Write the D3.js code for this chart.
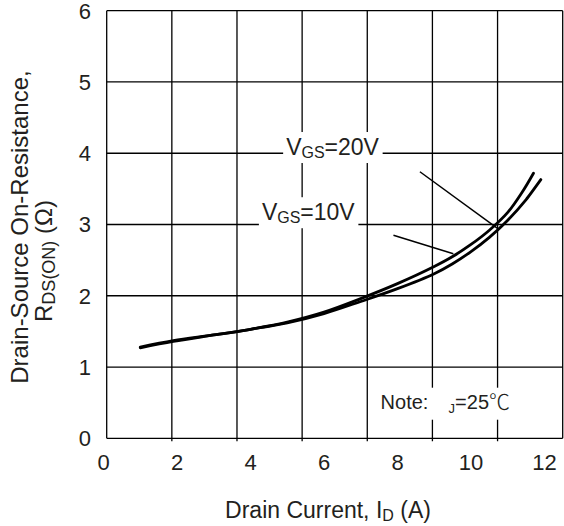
<!DOCTYPE html>
<html>
<head>
<meta charset="utf-8">
<script src="https://cdn.jsdelivr.net/npm/d3@7"></script>
<style>
  body { margin: 0; background: #fff; }
  svg { display: block; }
  text { font-family: "Liberation Sans", Arial, sans-serif; fill: #231f20; }
</style>
</head>
<body>
<div id="chart"></div>
<script>
// drain current (A) and on-resistance (ohm)
const current10 = [1.0, 1.9, 3.0, 4.0, 5.0, 6.0, 7.0, 8.0, 9.0, 9.5, 10.0, 10.5, 11.0, 11.4, 11.7];
const rdson10   = [1.28, 1.37, 1.45, 1.53, 1.63, 1.77, 1.96, 2.17, 2.41, 2.55, 2.72, 2.92, 3.17, 3.46, 3.72];
const current20 = [1.0, 1.9, 3.0, 4.0, 5.0, 6.0, 7.0, 8.0, 9.0, 9.5, 10.0, 10.5, 11.0, 11.5, 11.9];
const rdson20   = [1.27, 1.36, 1.45, 1.53, 1.62, 1.75, 1.92, 2.10, 2.31, 2.45, 2.62, 2.82, 3.06, 3.35, 3.63];
const xTicks = [0, 2, 4, 6, 8, 10, 12];
const yTicks = [0, 1, 2, 3, 4, 5, 6];
const gridCols = 7; // the printed grid has 7 columns, not matched to the tick labels

const width = 564, height = 526;

const svg = d3.select("#chart").append("svg")
  .attr("width", width)
  .attr("height", height);

// data scale (tick labels + curves)
const x = d3.scaleLinear().domain([0, 12]).range([103.5, 544.5]);
const y = d3.scaleLinear().domain([0, 6]).range([438.3, 10.7]);
// grid box
const gx = d3.scaleLinear().domain([0, gridCols]).range([106.7, 562.7]);

const grid = svg.append("g").attr("stroke", "#000").attr("stroke-width", 1.3);
grid.selectAll(".vline")
  .data(d3.range(gridCols + 1))
  .enter().append("line")
  .attr("x1", d => gx(d)).attr("x2", d => gx(d))
  .attr("y1", y(6)).attr("y2", d => (d > 0 && d < gridCols) ? y(0) + 3 : y(0));
grid.selectAll(".hline")
  .data(yTicks)
  .enter().append("line")
  .attr("x1", gx(0)).attr("x2", gx(gridCols))
  .attr("y1", d => y(d)).attr("y2", d => y(d));

// tick labels
svg.append("g").selectAll("text")
  .data(xTicks)
  .enter().append("text")
  .attr("x", d => x(d))
  .attr("y", 470)
  .attr("text-anchor", "middle")
  .attr("font-size", 22)
  .text(d => d);

svg.append("g").selectAll("text")
  .data(yTicks)
  .enter().append("text")
  .attr("x", 91)
  .attr("y", d => y(d))
  .attr("dy", "0.36em")
  .attr("text-anchor", "end")
  .attr("font-size", 22)
  .text(d => d);

// axis titles
const xt = svg.append("text")
  .attr("x", 328).attr("y", 518)
  .attr("text-anchor", "middle")
  .attr("font-size", 23);
xt.append("tspan").text("Drain Current, I");
xt.append("tspan").attr("font-size", 16).attr("dy", 3).text("D");
xt.append("tspan").attr("dy", -3).text(" (A)");

const yt = svg.append("g").attr("transform", "rotate(-90)");
yt.append("text")
  .attr("x", -227).attr("y", 28)
  .attr("text-anchor", "middle")
  .attr("font-size", 24)
  .text("Drain-Source On-Resistance,");
const yt2 = yt.append("text")
  .attr("x", -261).attr("y", 52)
  .attr("text-anchor", "middle")
  .attr("font-size", 24);
yt2.append("tspan").text("R");
yt2.append("tspan").attr("font-size", 18).attr("dy", 3).text("DS(ON)");
yt2.append("tspan").attr("dy", -3).text(" (Ω)");

// label helper: text with white box behind it
function label(g, xv, yv, main, sub, rest, size, subSize) {
  const t = g.append("text")
    .attr("x", x(xv)).attr("y", y(yv))
    .attr("font-size", size);
  t.append("tspan").text(main);
  t.append("tspan").attr("font-size", subSize).attr("dy", 3).text(sub);
  t.append("tspan").attr("dy", -3).text(rest);
  const bb = t.node().getBBox();
  g.insert("rect", "text")
    .attr("x", bb.x - 3).attr("y", bb.y - 2)
    .attr("width", bb.width + 6).attr("height", bb.height + 4)
    .attr("fill", "#fff");
  return t;
}

const labels = svg.append("g");
label(labels.append("g"), 4.97, 3.975, "V", "GS", "=20V", 23, 16);
label(labels.append("g"), 4.31, 3.06, "V", "GS", "=10V", 23, 16);

// note box
const noteG = svg.append("g");
noteG.append("rect")
  .attr("x", x(7.35)).attr("y", y(0.71))
  .attr("width", 143).attr("height", 32)
  .attr("fill", "#fff");
const note = noteG.append("text")
  .attr("x", x(7.54)).attr("y", y(0.41))
  .attr("font-size", 20);
note.append("tspan").text("Note:");
note.append("tspan").attr("x", x(7.54) + 68).attr("font-size", 13).attr("dy", 4).text("J");
note.append("tspan").attr("dy", -4).text("=25");
note.append("tspan")
  .style("font-family", "'Noto Sans CJK SC', sans-serif")
  .attr("font-weight", 300)
  .attr("font-size", 21)
  .text("℃");

// curves
const line = d3.line()
  .x(d => x(d[0]))
  .y(d => y(d[1]))
  .curve(d3.curveCatmullRom);

const series = [
  d3.zip(current10, rdson10),
  d3.zip(current20, rdson20)
];
svg.append("g").selectAll("path")
  .data(series)
  .enter().append("path")
  .attr("d", line)
  .attr("fill", "none")
  .attr("stroke", "#000")
  .attr("stroke-width", 2.8)
  .attr("stroke-linecap", "round");

// leader lines from labels to curves
const leaders = [
  [[8.61, 3.74], [10.74, 2.94]],
  [[7.89, 2.85], [9.52, 2.59]]
];
svg.append("g").selectAll("line")
  .data(leaders)
  .enter().append("line")
  .attr("x1", d => x(d[0][0])).attr("y1", d => y(d[0][1]))
  .attr("x2", d => x(d[1][0])).attr("y2", d => y(d[1][1]))
  .attr("stroke", "#000")
  .attr("stroke-width", 1.5);
</script>
</body>
</html>
